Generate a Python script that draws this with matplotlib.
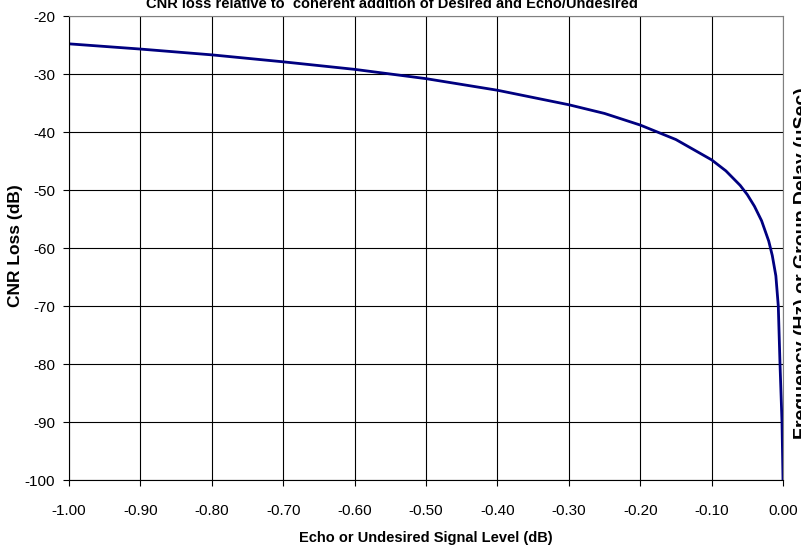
import numpy as np
import matplotlib
matplotlib.use('Agg')
import matplotlib.pyplot as plt
from matplotlib.ticker import MultipleLocator, FormatStrFormatter


# values
echo_level = [-1.00, -0.90, -0.80, -0.70, -0.60, -0.50, -0.40, -0.30, -0.25,
              -0.20, -0.15, -0.10, -0.08, -0.06, -0.05, -0.04, -0.03, -0.02,
              -0.015, -0.01, -0.0066, -0.0042, -0.0014, 0.0]
cnr_loss = [-24.8, -25.7, -26.7, -27.9, -29.2, -30.8, -32.8, -35.3, -36.8,
            -38.8, -41.3, -44.8, -46.7, -49.2, -50.8, -52.8, -55.3, -58.8,
            -61.3, -64.8, -70.0, -80.0, -90.0, -100.0]

title = 'CNR loss relative to  coherent addition of Desired and Echo/Undesired'


def plot_cnr():
    plt.rcParams['font.family'] = ['Liberation Sans', 'DejaVu Sans']
    plt.rcParams['axes.unicode_minus'] = False

    fig = plt.figure(figsize=(8.01, 5.5), dpi=100)
    ax = fig.add_axes([69/801, 1 - 480/550, 714/801, 464/550])

    ax.plot(echo_level, cnr_loss, color='#000080', lw=2)

    ax.set_xlim(-1.0, 0.0)
    ax.set_ylim(-100, -20)
    ax.xaxis.set_major_locator(MultipleLocator(0.1))
    ax.xaxis.set_major_formatter(FormatStrFormatter('%.2f'))
    ax.yaxis.set_major_locator(MultipleLocator(10))

    ax.grid(True, color='black', lw=0.8)
    ax.set_axisbelow(True)
    for side in ['top', 'right']:
        ax.spines[side].set_color('#808080')
    for side in ['left', 'bottom']:
        ax.spines[side].set_color('black')
    ax.tick_params(direction='out', length=4, width=0.8, labelsize=11)
    ax.tick_params(axis='x', pad=13)
    ax.tick_params(axis='y', pad=6)

    ax.set_xlabel('Echo or Undesired Signal Level (dB)', fontsize=10.5,
                  fontweight='bold', va='center')
    ax.xaxis.set_label_coords(0.5, (480 - 538) / 464)
    ax.set_ylabel('CNR Loss (dB)', fontsize=12.5, fontweight='bold', va='center')
    ax.yaxis.set_label_coords((15 - 69) / 714, (480 - 246) / 464)

    fig.text(392/801, 1 - 8/550, title, fontsize=10.5, fontweight='bold',
             ha='center', va='baseline')
    fig.text(794/801, 1 - 263/550, 'Frequency (Hz) or Group Delay (\u03bcSec)',
             fontsize=14, fontweight='bold', rotation=90, ha='left', va='center')

    fig.savefig('out.png', dpi=100)


if __name__ == '__main__':
    plot_cnr()
